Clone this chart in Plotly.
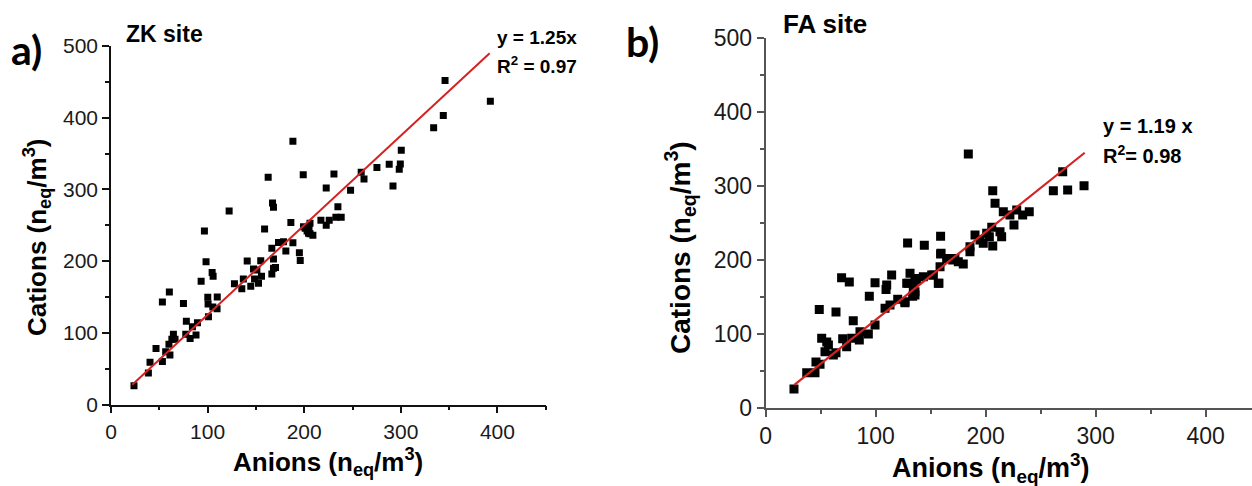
import plotly.graph_objects as go

W, H = 1252, 486

# ---- ZK site: anion vs cation equivalents (n_eq/m3) ----
zk_anions = [23.8, 38.7, 40.4, 53.2, 46.6, 56.6, 61, 60, 64.6, 63, 66.3, 77.4, 78, 81.9, 88,
             84.3, 89.5, 100.9, 100.5, 100.2, 110, 105.4, 109.8, 53.2, 60.4, 75, 93.3, 98.4,
             104.7, 105.7, 96.7, 122.3, 127.8, 135.4, 137, 144.7, 141, 147.5, 148.6, 152.7,
             155, 155.8, 151, 159, 166.5, 168.2, 168.2, 166.5, 170.3, 167.2, 168.2, 173.4,
             178.6, 181, 186.2, 188.3, 195, 195.9, 201, 204.5, 162.7, 188.3, 199, 230.8,
             222.8, 248, 259, 261.9, 275.3, 288, 300.5, 299.5, 298.4, 291.9, 234.9, 232.8,
             238.3, 225.9, 217.3, 222.8, 199.3, 206, 203, 206, 209, 205, 334, 344, 345.8,
             392.7]
zk_cations = [26.2, 44, 59, 60, 78, 73.6, 69, 84, 98, 91, 91, 98, 116, 92, 97,
              108.5, 114, 122.5, 140, 149.5, 150, 136, 133.6, 143, 157, 141, 172, 199,
              184, 179, 242, 270, 168.5, 161.5, 175, 165, 200, 189, 175, 169,
              200.5, 179, 187.6, 244.8, 218, 203, 190, 182, 191, 281, 275, 226,
              227, 214, 254, 225.7, 211.7, 201, 245.7, 238.8, 317, 367, 320.5, 321.5,
              302, 298.7, 324, 314.5, 330.7, 335, 354.5, 335.4, 328, 304.7, 275.9, 261,
              261, 257, 257, 250, 248, 252.7, 242, 238, 236, 245, 386, 403, 452,
              423]
zk_slope, zk_r2 = 1.25, 0.97
zk_fit_x = [22, 392]

# ---- FA site ----
fa_anions = [25.7, 37.3, 44.8, 45.7, 49.4, 50.9, 55.5, 53.9, 57, 61.5, 63.9, 48.7, 63.9,
             69, 76, 70, 73.6, 79.6, 78.2, 85.1, 85.7, 93.3, 99.4, 94.2, 99.4, 110, 109.4,
             114.5, 108.5, 113, 120, 126.6, 129.6, 131.2, 133.6, 135.7, 137.2, 143.3, 150.9,
             157.5, 159.4, 159, 144.2, 129, 158.5, 172, 184.2, 206.4, 208.5, 216, 222,
             228.2, 233.6, 239.6, 225.7, 205.5, 213, 214.5, 203.3, 206.4, 197.8, 190.3,
             185.7, 261.5, 270, 274.5, 289.4, 159, 170, 175.1, 179.6, 164.5, 156.9,
             152.4, 135.7, 128.2, 134.2, 126.6, 135.7, 200.9, 194.8, 185.7]
fa_cations = [25.3, 47.4, 47.4, 62, 58.7, 94, 89, 75.8, 84.8, 71.3, 74.4, 133, 129.5,
              176, 170, 93.4, 82.5, 117.7, 94, 91.6, 102.8, 99.7, 111.9, 151, 169, 166, 160,
              179.6, 134.5, 139, 146.7, 143.4, 168.3, 181.9, 151, 157, 172.8, 177.3, 179.6,
              168.3, 209, 232, 220, 223, 190.8, 202, 343.3, 293.7, 276.6, 265.2, 260.8,
              267.5, 260.8, 265.2, 247.2, 244.1, 238.2, 231.4, 231.4, 218.8, 222.5, 233.7,
              211, 293.7, 319.4, 294.6, 300.4, 208, 199.9, 197.6, 194.5, 202, 168.3,
              179.6, 175, 168.3, 161.6, 142, 152.5, 236, 227, 218]
fa_slope, fa_r2 = 1.19, 0.98
fa_fit_x = [26, 290]

tick_vals = [0, 100, 200, 300, 400, 500]
tick_text = ["0", "100", "200", "300", "400", "500"]


def px(x):
    return x / W


def py(y):
    return 1 - y / H


fig = go.Figure()

fig.add_trace(go.Scatter(
    x=zk_anions, y=zk_cations, mode="markers", xaxis="x", yaxis="y",
    marker=dict(symbol="square", size=7, color="black", line=dict(width=0)),
    showlegend=False, hoverinfo="skip"))
fig.add_trace(go.Scatter(
    x=zk_fit_x, y=[zk_slope * v for v in zk_fit_x], mode="lines", xaxis="x", yaxis="y",
    line=dict(color="#d42222", width=2), showlegend=False, hoverinfo="skip"))

fig.add_trace(go.Scatter(
    x=fa_anions, y=fa_cations, mode="markers", xaxis="x2", yaxis="y2",
    marker=dict(symbol="square", size=9, color="black", line=dict(width=0)),
    showlegend=False, hoverinfo="skip"))
fig.add_trace(go.Scatter(
    x=fa_fit_x, y=[fa_slope * v for v in fa_fit_x], mode="lines", xaxis="x2", yaxis="y2",
    line=dict(color="#d42222", width=2.2), showlegend=False, hoverinfo="skip"))


def axis_style(size, color, line_w):
    return dict(
        automargin=False,
        showgrid=False, zeroline=False, showline=True, linecolor=color, linewidth=line_w,
        ticks="outside", ticklen=7, tickwidth=1.5, tickcolor=color,
        tickvals=tick_vals, ticktext=tick_text,
        tickfont=dict(family="Liberation Sans, Arial, sans-serif", size=size, color="#1a1a1a"),
        minor=dict(dtick=50, tick0=0, ticks="outside", ticklen=4, tickwidth=1.5, tickcolor=color),
    )


fig.update_layout(
    template="none",
    width=W, height=H, margin=dict(l=0, r=0, t=0, b=0, autoexpand=False),
    paper_bgcolor="white", plot_bgcolor="white",
    xaxis=dict(domain=[px(111), px(545.7)], range=[0, 450], anchor="y",
               **axis_style(21, "#111111", 1.6)),
    yaxis=dict(domain=[py(404.5), py(46)], range=[0, 500], anchor="x",
               **axis_style(21, "#111111", 1.6)),
    xaxis2=dict(domain=[px(765.7), 1.0], range=[0, (W - 765.7) / 1.10], anchor="y2",
                **axis_style(23, "#555555", 2)),
    yaxis2=dict(domain=[py(407.7), py(38.3)], range=[0, 500], anchor="x2",
                **axis_style(23, "#555555", 2)),
)

bold = "Liberation Sans, Arial, sans-serif"
annotations = [
    # panel letters
    dict(text="<b>a)</b>", x=px(9), y=py(49), xanchor="left", yanchor="middle",
         font=dict(family="Lato, sans-serif", size=41, color="black")),
    dict(text="<b>b)</b>", x=px(624), y=py(41), xanchor="left", yanchor="middle",
         font=dict(family="Lato, sans-serif", size=41, color="black")),
    # site names
    dict(text="<b>ZK site</b>", x=px(124), y=py(34), xanchor="left", yanchor="middle",
         font=dict(family=bold, size=23, color="black")),
    dict(text="<b>FA site</b>", x=px(781), y=py(24), xanchor="left", yanchor="middle",
         font=dict(family=bold, size=26, color="black")),
    # regression labels
    dict(text=f"<b>y = {zk_slope:.2f}x</b>", x=px(495), y=py(37), xanchor="left",
         yanchor="middle", font=dict(family=bold, size=19, color="black")),
    dict(text=f"<b>R<sup>2</sup> = {zk_r2:.2f}</b>", x=px(495), y=py(65), xanchor="left",
         yanchor="middle", font=dict(family=bold, size=19, color="black")),
    dict(text=f"<b>y = {fa_slope:.2f} x</b>", x=px(1101), y=py(126), xanchor="left",
         yanchor="middle", font=dict(family=bold, size=20, color="black")),
    dict(text=f"<b>R<sup>2</sup>= {fa_r2:.2f}</b>", x=px(1101), y=py(155), xanchor="left",
         yanchor="middle", font=dict(family=bold, size=20, color="black")),
    # axis titles
    dict(text="<b>Anions (n<sub>eq</sub>/m<sup>3</sup>)</b>", x=px(328), y=py(462),
         xanchor="center", yanchor="middle", font=dict(family=bold, size=26, color="black")),
    dict(text="<b>Cations (n<sub>eq</sub>/m<sup>3</sup>)</b>", x=px(37), y=py(238),
         xanchor="center", yanchor="middle", textangle=-90,
         font=dict(family=bold, size=26, color="black")),
    dict(text="<b>Anions (n<sub>eq</sub>/m<sup>3</sup>)</b>", x=px(991), y=py(468),
         xanchor="center", yanchor="middle", font=dict(family=bold, size=27, color="black")),
    dict(text="<b>Cations (n<sub>eq</sub>/m<sup>3</sup>)</b>", x=px(680), y=py(247),
         xanchor="center", yanchor="middle", textangle=-90,
         font=dict(family=bold, size=28, color="black")),
]
for a in annotations:
    a.update(xref="paper", yref="paper", showarrow=False)
fig.update_layout(annotations=annotations)

fig.write_html("out.html")
